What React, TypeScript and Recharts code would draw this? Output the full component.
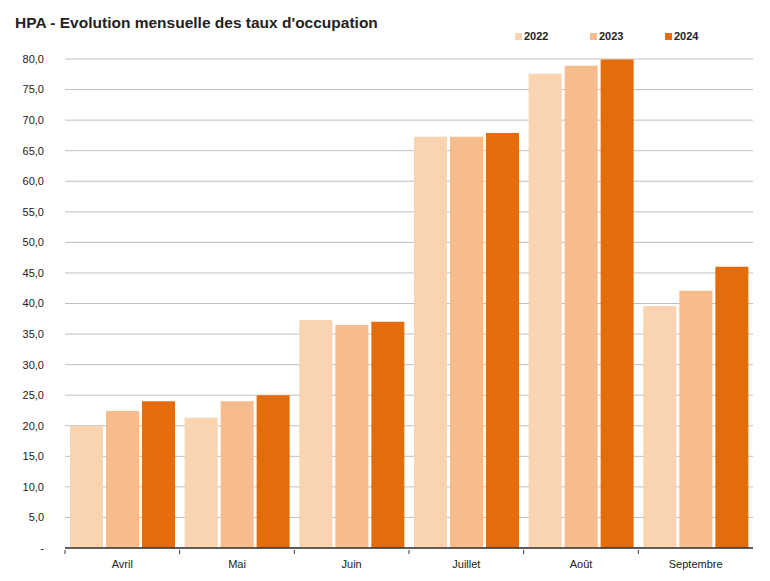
import { BarChart, Bar, XAxis, YAxis, CartesianGrid } from "recharts";

const months = ["Avril", "Mai", "Juin", "Juillet", "Août", "Septembre"];
const taux2022 = [20.0, 21.3, 37.3, 67.3, 77.6, 39.6];
const taux2023 = [22.4, 24.0, 36.5, 67.3, 78.9, 42.1];
const taux2024 = [24.0, 25.0, 37.0, 67.9, 79.9, 46.0];
const yTicks = [0, 5, 10, 15, 20, 25, 30, 35, 40, 45, 50, 55, 60, 65, 70, 75, 80];

const series = [
  { key: "2022", color: "#fad3b0" },
  { key: "2023", color: "#f7bb8c" },
  { key: "2024", color: "#e46c0a" },
];

const data = months.map((m, i) => ({
  month: m,
  "2022": taux2022[i],
  "2023": taux2023[i],
  "2024": taux2024[i],
}));

const W = 770;
const H = 581;
const xAxisHeight = 30;
const margin = { top: 59, right: 17, bottom: 33 - xAxisHeight, left: 0 };
const yAxisWidth = 65;
const band = (W - margin.left - margin.right - yAxisWidth) / months.length;
const font = "'Liberation Sans', Arial, sans-serif";

function MonthTick(props: any) {
  const { x, y, payload } = props;
  const left = x - band / 2;
  return (
    <g>
      <line x1={left} y1={y} x2={left} y2={y + 4} stroke="#333" strokeWidth={1} />
      <text x={x} y={y + 18} textAnchor="middle" fontSize={11} fill="#222" fontFamily={font}>
        {payload.value}
      </text>
    </g>
  );
}

function YearLegend() {
  return (
    <div
      style={{
        position: "absolute",
        left: 515,
        top: 30,
        display: "flex",
        fontFamily: font,
        fontSize: 11,
        fontWeight: "bold",
        color: "#222",
      }}
    >
      {series.map((s) => (
        <div key={s.key} style={{ display: "flex", alignItems: "center", width: 75 }}>
          <span style={{ width: 7, height: 7, background: s.color, marginRight: 2, display: "inline-block" }} />
          {s.key}
        </div>
      ))}
    </div>
  );
}

export default function App() {
  return (
    <div style={{ position: "absolute", left: 0, top: 0, width: W, height: H, background: "#fff" }}>
      <div
        style={{
          position: "absolute",
          left: 15,
          top: 14,
          fontFamily: font,
          fontSize: 15.5,
          fontWeight: "bold",
          color: "#222",
          zIndex: 1,
        }}
      >
        HPA - Evolution mensuelle des taux d'occupation
      </div>
      <div style={{ position: "absolute", left: 0, top: 0, zIndex: 1 }}>
        <YearLegend />
      </div>
      <BarChart width={W} height={H} data={data} margin={margin} barCategoryGap={5} barGap={3}>
        <CartesianGrid vertical={false} stroke="#bfbfbf" strokeWidth={1} />
        <XAxis
          dataKey="month"
          height={xAxisHeight}
          axisLine={{ stroke: "#333", strokeWidth: 1.5 }}
          tickLine={false}
          tick={<MonthTick />}
          tickSize={0}
          interval={0}
        />
        <YAxis
          width={yAxisWidth}
          domain={[0, 80]}
          ticks={yTicks}
          axisLine={false}
          tickLine={false}
          tickSize={0}
          tickMargin={21}
          tick={{ fontSize: 11, fill: "#222", fontFamily: font }}
          tickFormatter={(v: number) => (v === 0 ? "-" : v.toFixed(1).replace(".", ","))}
        />
        {series.map((s) => (
          <Bar key={s.key} dataKey={s.key} fill={s.color} isAnimationActive={false} />
        ))}
      </BarChart>
    </div>
  );
}
